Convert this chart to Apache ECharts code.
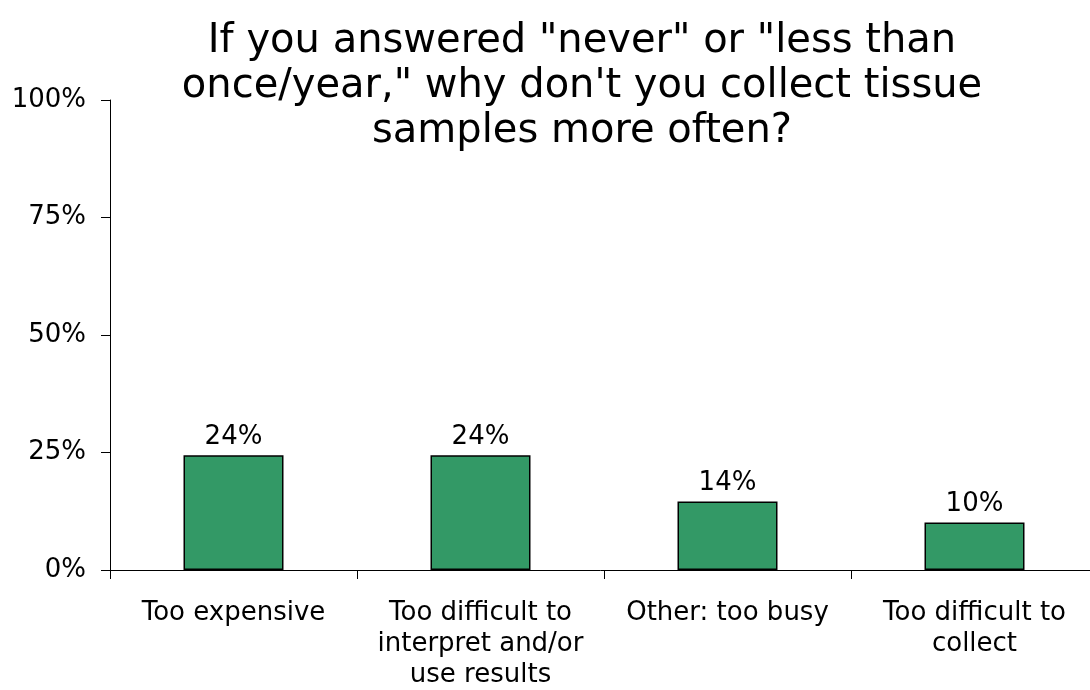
<!DOCTYPE html>
<html>
<head>
<meta charset="utf-8">
<script src="https://cdn.jsdelivr.net/npm/echarts@6/dist/echarts.min.js"></script>
<style>
  html, body { margin: 0; padding: 0; background: #fff; }
  #chart { width: 1090px; height: 690px; }
</style>
</head>
<body>
<div id="chart"></div>
<script>
// Survey answers, share of respondents (%)
const categories = [
  'Too expensive',
  'Too difficult to\ninterpret and/or\nuse results',
  'Other: too busy',
  'Too difficult to\ncollect'
];
const values = [24.4, 24.4, 14.6, 10.1];
const valueLabels = ['24%', '24%', '14%', '10%'];
const titleText = 'If you answered "never" or "less than\nonce/year," why don\'t you collect tissue\nsamples more often?';

const font = 'DejaVu Sans, Verdana, sans-serif';
const myChart = echarts.init(document.getElementById('chart'));

let option = {
  backgroundColor: '#fff',
  animation: false,
  title: {
    text: titleText,
    left: 577,
    top: 14,
    textAlign: 'center',
    textStyle: {
      fontFamily: font,
      fontSize: 40,
      fontWeight: 'normal',
      color: '#000',
      lineHeight: 45
    }
  },
  // plot area runs a little past the right edge, as in the original
  grid: { left: 110, top: 100, width: 988, height: 470, outerBoundsMode: 'none', containLabel: false },
  xAxis: {
    type: 'category',
    data: categories,
    axisLine: { lineStyle: { color: '#000', width: 1 } },
    axisTick: { show: true, length: 9, lineStyle: { color: '#000' } },
    axisLabel: {
      interval: 0,
      margin: 28,
      color: '#000',
      fontFamily: font,
      fontSize: 26,
      lineHeight: 31
    }
  },
  yAxis: {
    type: 'value',
    min: 0,
    max: 100,
    interval: 25,
    axisLine: { show: true, lineStyle: { color: '#000', width: 1 } },
    axisTick: { show: true, length: 9, lineStyle: { color: '#000' } },
    splitLine: { show: false },
    axisLabel: {
      margin: 24,
      color: '#000',
      fontFamily: font,
      fontSize: 26,
      formatter: '{value}%'
    }
  },
  series: [{
    type: 'bar',
    data: values,
    barWidth: 100,
    itemStyle: { color: '#339966', borderColor: '#000', borderWidth: 1.5 },
    label: {
      show: true,
      position: 'top',
      distance: 5,
      color: '#000',
      fontFamily: font,
      fontSize: 26,
      formatter: (p) => valueLabels[p.dataIndex]
    }
  }]
};
myChart.setOption(option);
</script>
</body>
</html>
